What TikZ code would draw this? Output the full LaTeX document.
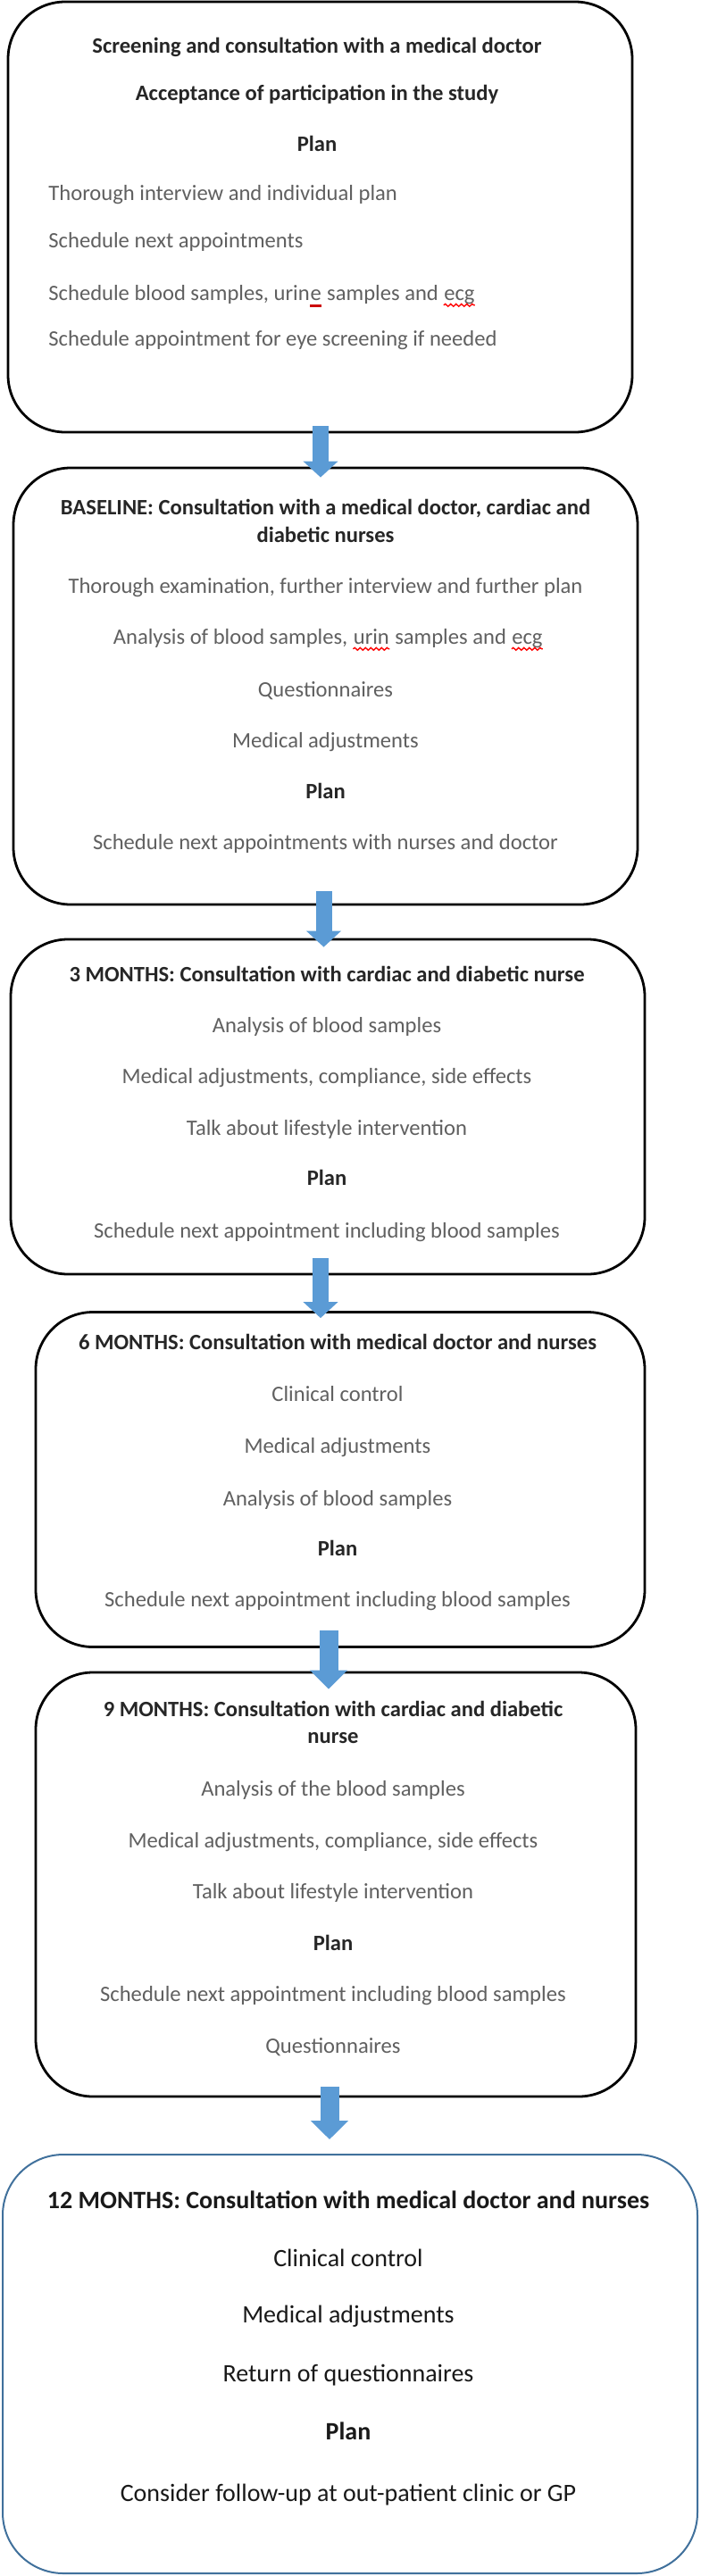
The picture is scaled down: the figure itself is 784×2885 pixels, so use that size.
\documentclass[tikz,border=0pt]{standalone}
\usepackage{fontspec}
\setmainfont{Carlito}
\usetikzlibrary{arrows.meta,decorations.pathmorphing}
\definecolor{arrowblue}{HTML}{5B9BD5}
\definecolor{boxblue}{HTML}{41719C}
\definecolor{txtgray}{HTML}{606060}
\definecolor{txtdark}{HTML}{262626}
\newcommand\fsmall{\fontsize{12.3}{14}\selectfont}
\newcommand\fbig{\fontsize{14}{16}\selectfont}
\newcommand\wordsp{\kern\fontdimen2\font}
\begin{document}
\begin{tikzpicture}[x=0.5pt,y=-0.5pt,
  box/.style={draw=black, line width=1.4pt, rounded corners=32pt, fill=white, inner sep=0pt},
  lastbox/.style={draw=boxblue, line width=1pt, rounded corners=34pt, fill=white, inner sep=0pt},
  reg/.style={anchor=mid, inner sep=0pt, font=\fsmall, text=txtgray},
  regl/.style={anchor=mid west, inner sep=0pt, font=\fsmall, text=txtgray},
  piece/.style={anchor=base west, inner sep=0pt, font=\fsmall, text=txtgray},
  hd/.style={anchor=mid, inner sep=0pt, font=\fsmall\bfseries, text=txtdark},
  breg/.style={anchor=mid, inner sep=0pt, font=\fbig, text=black!90},
  bhd/.style={anchor=mid, inner sep=0pt, font=\fbig\bfseries, text=black!90},
  squiggle/.style={draw=red, line width=0.7pt, decorate, decoration={snake, amplitude=0.7pt, segment length=3pt}},
  redbar/.style={draw=red!80!black, line width=1.3pt},
  blockarrow/.style={line width=9pt, draw=arrowblue, -{Triangle[width=19pt,length=9pt]}},
  blockarrowwide/.style={line width=10.5pt, draw=arrowblue, -{Triangle[width=20.5pt,length=10.5pt]}}
]
\useasboundingbox (0,0) rectangle (784,2885);

% boxes
\node[box, minimum width=349.5pt, minimum height=241pt] (b1) at (358.5,243) {};
\node[box, minimum width=349.5pt, minimum height=244.5pt] (b2) at (364.5,768.5) {};
\node[box, minimum width=355pt, minimum height=187.5pt] (b3) at (367,1239.5) {};
\node[box, minimum width=341pt, minimum height=187.5pt] (b4) at (381,1657) {};
\node[box, minimum width=336pt, minimum height=237.5pt] (b5) at (376,2110.5) {};
\node[lastbox, minimum width=389pt, minimum height=234.5pt] (b6) at (392,2647.5) {};

% arrows
\draw[blockarrow] ([shift={(0.5,-8)}]b1.south) -- ([shift={(-5.5,12)}]b2.north);
\draw[blockarrow] ([shift={(-2,-16)}]b2.south) -- ([shift={(-4.5,10)}]b3.north);
\draw[blockarrow] ([shift={(-8,-19)}]b3.south) -- ([shift={(-22,8)}]b4.north);
\draw[blockarrowwide] ([shift={(-13,-20)}]b4.south) -- ([shift={(-8,20)}]b5.north);
\draw[blockarrowwide] ([shift={(-7,-12)}]b5.south) -- ([shift={(-23,-16)}]b6.north);

% box 1
\node[hd] (t11) at (355,55) {Screening and consultation with a medical doctor};
\node[hd] (t12) at (355,108) {Acceptance of participation in the study};
\node[hd] (t13) at (355,165) {Plan};
\node[regl] (t14) at (54,220) {Thorough interview and individual plan};
\node[regl] (t15) at (54,273) {Schedule next appointments};
\node[regl] (t16a) at (54,332) {Schedule blood samples, urin};
\node[piece] (t16b) at (t16a.base east) {e};
\node[piece] (t16c) at (t16b.base east) {\wordsp samples and\wordsp};
\node[piece] (t16d) at (t16c.base east) {ecg};
\draw[redbar] ([yshift=-3pt]t16b.base west) -- ([yshift=-3pt]t16b.base east);
\draw[squiggle] ([yshift=-2.5pt]t16d.base west) -- ([yshift=-2.5pt]t16d.base east);
\node[regl] (t17) at (54,383) {Schedule appointment for eye screening if needed};

% box 2
\node[hd] (t21) at (364.5,572) {BASELINE: Consultation with a medical doctor, cardiac and};
\node[hd] (t22) at (364.5,603) {diabetic nurses};
\node[reg] (t23) at (364.5,660) {Thorough examination, further interview and further plan};
\node[reg] (t24) at (366,717) {\phantom{Analysis of blood samples, urin samples and ecg}};
\node[piece] (t24a) at (t24.base west) {Analysis of blood samples,\wordsp};
\node[piece] (t24b) at (t24a.base east) {urin};
\node[piece] (t24c) at (t24b.base east) {\wordsp samples and\wordsp};
\node[piece] (t24d) at (t24c.base east) {ecg};
\draw[squiggle] ([yshift=-2.5pt]t24b.base west) -- ([yshift=-2.5pt]t24b.base east);
\draw[squiggle] ([yshift=-2.5pt]t24d.base west) -- ([yshift=-2.5pt]t24d.base east);
\node[reg] (t25) at (364.5,776) {Questionnaires};
\node[reg] (t26) at (364.5,833) {Medical adjustments};
\node[hd] (t27) at (364.5,890) {Plan};
\node[reg] (t28) at (364.5,947) {Schedule next appointments with nurses and doctor};

% box 3
\node[hd] (t31) at (366,1095) {3 MONTHS: Consultation with cardiac and diabetic nurse};
\node[reg] (t32) at (366,1152) {Analysis of blood samples};
\node[reg] (t33) at (366,1209) {Medical adjustments, compliance, side effects};
\node[reg] (t34) at (366,1267) {Talk about lifestyle intervention};
\node[hd] (t35) at (366,1323) {Plan};
\node[reg] (t36) at (366,1382) {Schedule next appointment including blood samples};

% box 4
\node[hd] (t41) at (378,1507) {6 MONTHS: Consultation with medical doctor and nurses};
\node[reg] (t42) at (378,1565) {Clinical control};
\node[reg] (t43) at (378,1623) {Medical adjustments};
\node[reg] (t44) at (378,1682) {Analysis of blood samples};
\node[hd] (t45) at (378,1738) {Plan};
\node[reg] (t46) at (378,1795) {Schedule next appointment including blood samples};

% box 5
\node[hd] (t51) at (373,1918) {9 MONTHS: Consultation with cardiac and diabetic};
\node[hd] (t52) at (373,1948) {nurse};
\node[reg] (t53) at (373,2007) {Analysis of the blood samples};
\node[reg] (t54) at (373,2065) {Medical adjustments, compliance, side effects};
\node[reg] (t55) at (373,2122) {Talk about lifestyle intervention};
\node[hd] (t56) at (373,2180) {Plan};
\node[reg] (t57) at (373,2237) {Schedule next appointment including blood samples};
\node[reg] (t58) at (373,2295) {Questionnaires};

% box 6
\node[bhd] (t61) at (390,2469) {12 MONTHS: Consultation with medical doctor and nurses};
\node[breg] (t62) at (390,2534) {Clinical control};
\node[breg] (t63) at (390,2597) {Medical adjustments};
\node[breg] (t64) at (390,2663) {Return of questionnaires};
\node[bhd] (t65) at (390,2728) {Plan};
\node[breg] (t66) at (390,2797) {Consider follow-up at out-patient clinic or GP};
\end{tikzpicture}
\end{document}
